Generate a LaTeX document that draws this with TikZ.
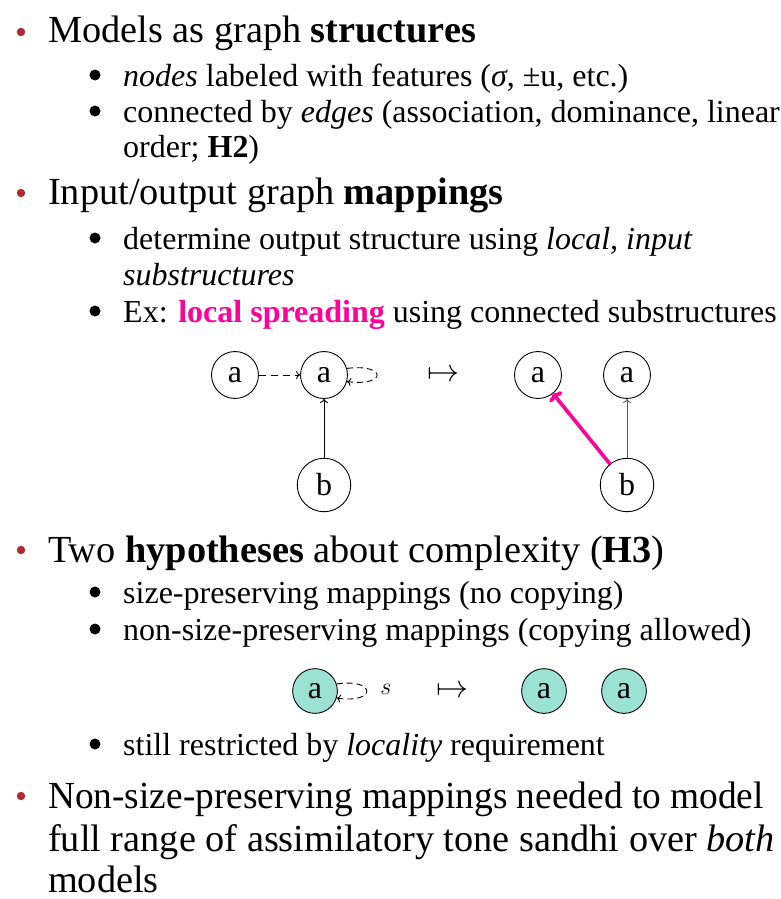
\RequirePackage{fix-cm}
\documentclass[tikz,border=0pt]{standalone}
\usepackage{fontspec}
\setmainfont{Liberation Serif}
\usetikzlibrary{arrows.meta}
\definecolor{bulletred}{RGB}{178,40,50}
\definecolor{spread}{RGB}{255,0,153}
\definecolor{tealfill}{RGB}{156,226,212}
\begin{document}
\begin{tikzpicture}[x=1pt,y=-1pt,
  lone/.style={anchor=base west, inner sep=0pt, font=\fontsize{38.3}{46}\selectfont},
  ltwo/.style={anchor=base west, inner sep=0pt, font=\fontsize{32}{38}\selectfont},
  redbul/.style={fill=bulletred},
  blkbul/.style={fill=black},
  gnode/.style={circle, draw, line width=0.9pt, inner sep=9.2pt, font=\fontsize{32}{38}\selectfont},
  tnode/.style={circle, draw, fill=tealfill, line width=0.9pt, inner sep=8.4pt, font=\fontsize{32}{38}\selectfont},
  edge/.style={line width=0.9pt, -{To[length=4pt,width=8pt]}},
  dashedge/.style={line width=0.9pt, dashed, dash pattern=on 7pt off 5pt, -{To[length=4pt,width=8pt]}},
  loopedge/.style={line width=0.9pt, dashed, dash pattern=on 6pt off 4pt, -{To[length=4pt,width=8pt]}},
  spreadedge/.style={line width=3.6pt, spread, -{To[length=6pt,width=16pt,line width=3.6pt]}},
  mapsym/.style={inner sep=0pt, font=\fontsize{32}{38}\selectfont},
]
\useasboundingbox (0,0) rectangle (781,899);

% bullet 1
\fill[redbul] (21,32) circle (4.2);
\node[lone] (t1) at (48,43) {Models as graph \textbf{structures}};
\fill[blkbul] (95,75) circle (5.5);
\node[ltwo] (t2) at (123,86) {\textit{nodes} labeled with features (\textit{σ}, ±u, etc.)};
\fill[blkbul] (95,111) circle (5.5);
\node[ltwo] (t3) at (123,122) {connected by \textit{edges} (association, dominance, linear};
\node[ltwo] (t4) at (123,157) {order; \textbf{H2})};

% bullet 2
\fill[redbul] (21,193) circle (4.2);
\node[lone] (t5) at (48,204) {Input/output graph \textbf{mappings}};
\fill[blkbul] (95,238) circle (5.5);
\node[ltwo] (t6) at (123,249) {determine output structure using \textit{local, input}};
\node[ltwo] (t7) at (123,285) {\textit{substructures}};
\fill[blkbul] (95,311) circle (5.5);
\node[ltwo] (t8) at (123,322) {Ex: \textbf{\color{spread}local spreading} using connected substructures};

% diagram 1
\node[gnode] (a1) at (235,375) {a};
\node[gnode] (a2) at (324,375) {a};
\node[gnode] (b1) at (324,485) {b};
\draw[dashedge] (a1) -- (a2);
\draw[edge] (b1) -- (a2);
\draw[loopedge] (a2.16) .. controls +(40,-5) and +(40,5) .. (a2.-16);
\node[mapsym] (m1) at (443,376) {$\mapsto$};
\node[gnode] (a3) at (538,375) {a};
\node[gnode] (a4) at (627,375) {a};
\node[gnode] (b2) at (627,485) {b};
\draw[edge, black!65] (b2) -- (a4);
\draw[spreadedge] (b2) -- (a3);

% bullet 3
\fill[redbul] (21,550) circle (4.2);
\node[lone] (t9) at (48,562) {Two \textbf{hypotheses} about complexity (\textbf{H3})};
\fill[blkbul] (95,592) circle (5.5);
\node[ltwo] (t10) at (123,603) {size-preserving mappings (no copying)};
\fill[blkbul] (95,629) circle (5.5);
\node[ltwo] (t11) at (123,640) {non-size-preserving mappings (copying allowed)};

% diagram 2
\node[tnode] (c1) at (315,691) {a};
\draw[loopedge] (c1.18) .. controls +(40,-6) and +(40,6) .. (c1.-18);
\node[inner sep=0pt, font=\fontsize{24}{28}\selectfont] (s1) at (386,689) {$s$};
\node[mapsym] (m2) at (452,692) {$\mapsto$};
\node[tnode] (c2) at (544,691) {a};
\node[tnode] (c3) at (624,691) {a};

\fill[blkbul] (95,744) circle (5.5);
\node[ltwo] (t12) at (123,755) {still restricted by \textit{locality} requirement};

% bullet 4
\fill[redbul] (21,796) circle (4.2);
\node[lone] (t13) at (48,808) {\scalebox{0.975}[1]{Non-size-preserving mappings needed to model}};
\node[lone] (t14) at (48,851) {full range of assimilatory tone sandhi over \textit{both}};
\node[lone] (t15) at (48,892) {models};
\end{tikzpicture}
\end{document}
